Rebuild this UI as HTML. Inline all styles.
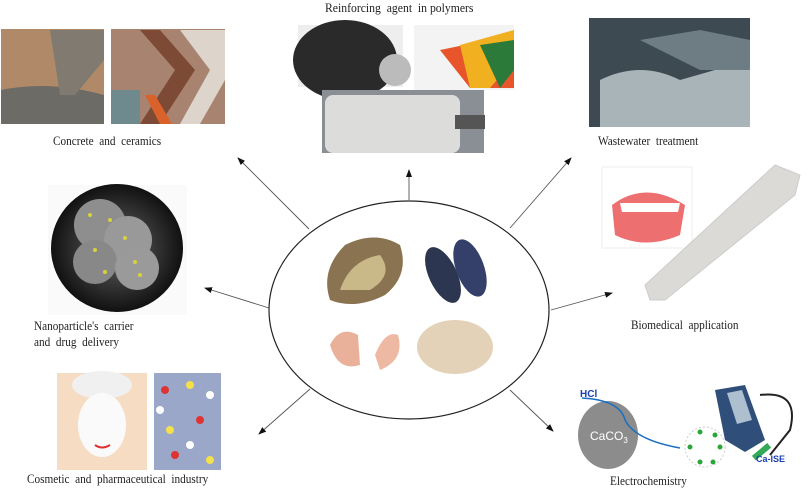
<!DOCTYPE html>
<html><head><meta charset="utf-8"><style>
body{margin:0;width:809px;height:491px;background:#fff;position:relative;overflow:hidden;font-family:"Liberation Serif",serif;}
.a{position:absolute}
.t{position:absolute;font-size:12.5px;color:#222;white-space:nowrap;transform:scaleX(0.9);transform-origin:left top}
</style></head><body>
<svg class="a" style="left:0;top:0" width="809" height="491">
<defs><marker id="m" markerWidth="8" markerHeight="8" refX="7" refY="4" orient="auto" markerUnits="userSpaceOnUse"><path d="M0,1 L8,4 L0,7z" fill="#111"/></marker>
<radialGradient id="nb" cx="50%" cy="50%" r="50%"><stop offset="0" stop-color="#666"/><stop offset="1" stop-color="#111"/></radialGradient></defs>
<g stroke="#555" stroke-width="0.9" fill="none" marker-end="url(#m)">
<line x1="309" y1="229" x2="238" y2="158"/>
<line x1="409" y1="200" x2="409" y2="170"/>
<line x1="510" y1="228" x2="571" y2="158"/>
<line x1="269" y1="308" x2="205" y2="288"/>
<line x1="551" y1="310" x2="612" y2="293"/>
<line x1="310" y1="389" x2="259" y2="434"/>
<line x1="510" y1="390" x2="553" y2="431"/>
</g>
<ellipse cx="409" cy="310" rx="140" ry="109" fill="none" stroke="#222" stroke-width="1.2"/>
<rect x="1" y="29" width="103" height="95" fill="#b08a68"/>
<path d="M1,90 Q50,80 104,95 L104,124 L1,124z" fill="#6d6b66"/>
<path d="M50,30 L104,30 L104,60 L75,95 L60,95z" fill="#807a70"/>
<rect x="111" y="29" width="114" height="95" fill="#a88470"/>
<path d="M140,30 L175,70 L140,124 L160,124 L195,70 L160,30z" fill="#7d4a36"/>
<path d="M180,30 L210,70 L180,124 L200,124 L225,80 L225,30z" fill="#ddd4cc"/>
<path d="M111,90 L140,90 L140,124 L111,124z" fill="#6f8a8e"/>
<path d="M145,95 L160,124 L172,124 L155,95z" fill="#d9622a"/>
<rect x="298" y="25" width="105" height="62" fill="#eee"/>
<ellipse cx="345" cy="60" rx="52" ry="40" fill="#2a2a2a"/>
<circle cx="395" cy="70" r="16" fill="#bbb"/>
<rect x="414" y="25" width="100" height="65" fill="#f3f3f3"/>
<path d="M440,50 L514,35 L514,88 L470,88z" fill="#e8552a"/>
<path d="M460,45 L514,30 L514,60 L490,88 L470,88z" fill="#f0b020"/>
<path d="M480,45 L514,40 L514,70 L500,88z" fill="#2c7a3a"/>
<rect x="322" y="90" width="162" height="63" fill="#8a8f96"/>
<rect x="325" y="95" width="135" height="58" rx="8" fill="#dcdcda"/>
<rect x="455" y="115" width="30" height="14" fill="#555"/>
<rect x="589" y="18" width="161" height="109" fill="#3e4a52"/>
<path d="M600,80 Q640,60 680,80 L750,60 L750,127 L600,127z" fill="#a9b4b8"/>
<path d="M640,40 L700,30 L750,40 L750,70 L700,70z" fill="#6e7c84"/>
<rect x="48" y="185" width="139" height="130" fill="#fafafa"/>
<ellipse cx="117" cy="248" rx="66" ry="64" fill="url(#nb)"/>
<circle cx="100" cy="225" r="26" fill="#8e8e8e"/><circle cx="128" cy="240" r="24" fill="#999"/>
<circle cx="95" cy="262" r="22" fill="#888"/><circle cx="137" cy="268" r="22" fill="#9a9a9a"/>
<g fill="#d8d23a"><circle cx="90" cy="215" r="2"/><circle cx="110" cy="220" r="2"/><circle cx="125" cy="238" r="2"/><circle cx="95" cy="250" r="2"/><circle cx="135" cy="262" r="2"/><circle cx="140" cy="275" r="2"/><circle cx="105" cy="272" r="2"/></g>
<rect x="602" y="167" width="90" height="81" fill="#fff" stroke="#eee"/>
<path d="M612,205 Q645,180 685,205 L680,235 Q645,250 615,235z" fill="#ee6f6f"/>
<path d="M620,203 L680,203 L678,212 L622,212z" fill="#fff"/>
<path d="M775,165 L800,175 L795,195 L665,300 L650,300 L645,285z" fill="#dcdad6" stroke="#ccc"/>
<rect x="57" y="373" width="90" height="97" fill="#f7dcc4"/>
<ellipse cx="102" cy="385" rx="30" ry="14" fill="#f0f0f0"/>
<ellipse cx="102" cy="425" rx="24" ry="32" fill="#fafafa"/>
<path d="M95,445 Q102,450 110,445" stroke="#d33" stroke-width="2" fill="none"/>
<rect x="154" y="373" width="67" height="97" fill="#9aa7c8"/>
<g fill="#d33"><circle cx="165" cy="390" r="4"/><circle cx="200" cy="420" r="4"/><circle cx="175" cy="455" r="4"/></g>
<g fill="#f4e04a"><circle cx="190" cy="385" r="4"/><circle cx="170" cy="430" r="4"/><circle cx="210" cy="460" r="4"/></g>
<g fill="#fff"><circle cx="210" cy="395" r="4"/><circle cx="160" cy="410" r="4"/><circle cx="190" cy="445" r="4"/></g>
<ellipse cx="608" cy="435" rx="30" ry="34" fill="#8c8c8c"/>
<path d="M582,398 Q620,400 625,420 Q635,440 680,448" stroke="#1a6fc4" stroke-width="1.5" fill="none"/>
<circle cx="705" cy="447" r="20" fill="#fff" stroke="#ccc" stroke-dasharray="2,2"/>
<g fill="#2aa63a"><circle cx="700" cy="432" r="2.5"/><circle cx="715" cy="435" r="2.5"/><circle cx="690" cy="447" r="2.5"/><circle cx="720" cy="447" r="2.5"/><circle cx="700" cy="462" r="2.5"/><circle cx="713" cy="462" r="2.5"/></g>
<path d="M715,390 L745,385 L765,440 L745,452 L725,440z" fill="#2f4f7a"/>
<path d="M727,393 L742,390 L752,420 L737,424z" fill="#aebfd0"/>
<path d="M760,395 Q800,390 790,430 L770,455" stroke="#222" stroke-width="2" fill="none"/>
<rect x="752" y="450" width="20" height="6" fill="#3a5" transform="rotate(-40 760 453)"/>
<text x="580" y="397" font-family="Liberation Sans,sans-serif" font-size="10" font-weight="bold" fill="#1a3fb0">HCl</text>
<text x="590" y="440" font-family="Liberation Sans,sans-serif" font-size="12" fill="#fff">CaCO<tspan font-size="8" dy="3">3</tspan></text>
<text x="756" y="462" font-family="Liberation Sans,sans-serif" font-size="9" font-weight="bold" fill="#1a3fb0">Ca-ISE</text>
<path d="M330,300 Q320,270 345,245 Q375,230 400,245 Q410,275 385,295 Q355,310 330,300z" fill="#8a7350"/>
<path d="M340,290 Q350,260 380,255 Q395,275 370,290z" fill="#c9b888"/>
<ellipse cx="443" cy="275" rx="14" ry="30" fill="#2c3650" transform="rotate(-25 443 275)"/>
<ellipse cx="470" cy="268" rx="14" ry="30" fill="#34406a" transform="rotate(-20 470 268)"/>
<path d="M330,345 Q340,325 358,335 L360,365 Q338,372 330,345z" fill="#e9b199"/>
<path d="M375,355 Q385,330 398,335 Q405,360 380,370z" fill="#edb9a3"/>
<ellipse cx="455" cy="347" rx="38" ry="27" fill="#e3d2b8"/>
</svg>
<div class="t" style="left:325px;top:0px;font-size:13px">Reinforcing&nbsp; agent&nbsp; in polymers</div>
<div class="t" style="left:53px;top:134px">Concrete&nbsp; and&nbsp; ceramics</div>
<div class="t" style="left:598px;top:134px">Wastewater&nbsp; treatment</div>
<div class="t" style="left:34px;top:319px">Nanoparticle's&nbsp; carrier</div>
<div class="t" style="left:34px;top:335px">and&nbsp; drug&nbsp; delivery</div>
<div class="t" style="left:631px;top:318px">Biomedical&nbsp; application</div>
<div class="t" style="left:27px;top:472px">Cosmetic&nbsp; and&nbsp; pharmaceutical&nbsp; industry</div>
<div class="t" style="left:610px;top:474px">Electrochemistry</div>
</body></html>
